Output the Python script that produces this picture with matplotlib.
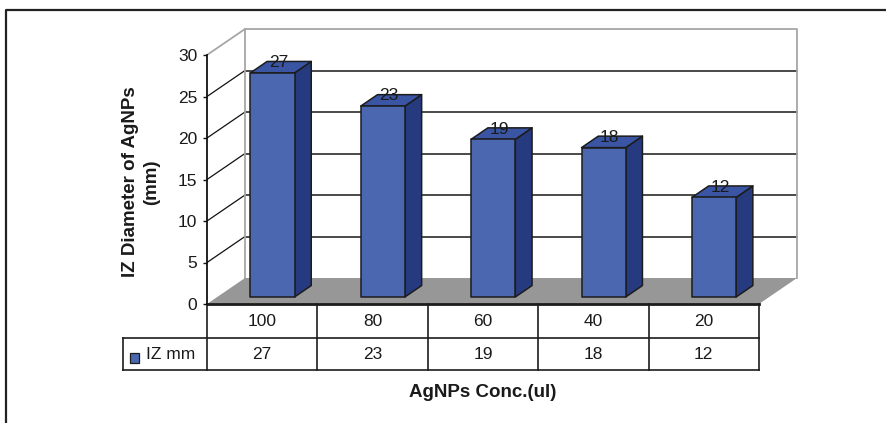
import numpy as np
import matplotlib
matplotlib.use("Agg")
import matplotlib.pyplot as plt
from matplotlib.patches import Polygon, Rectangle
from matplotlib.lines import Line2D

plt.rcParams["font.family"] = ["Liberation Sans", "DejaVu Sans"]

# data
concentrations = ["100", "80", "60", "40", "20"]
iz_mm = [27, 23, 19, 18, 12]
series_name = "IZ mm"
yticks = [0, 5, 10, 15, 20, 25, 30]

# colours
front_c = "#4a67b0"
top_c = "#3a55a4"
side_c = "#263a80"
edge_c = "#1c1c1c"
floor_c = "#979797"
wall_c = "#a6a6a6"
grid_c = "#4a4a4a"

W, H = 886, 423
fig = plt.figure(figsize=(W / 100, H / 100), dpi=100)
ax = fig.add_axes([207 / W, 119 / H, 552 / W, 249 / H])
n = len(concentrations)
ax.set_xlim(0, n)
ax.set_ylim(0, 30)

# depth offset of the 3d box (category units, value units)
DX, DY = 0.344, 3.13
D0, D1 = 0.27, 0.71      # bar depth span
BW = 0.40                # bar width inside a slot


def proj(x, y, d):
    return x + d * DX, y + d * DY


# side wall diagonals and back wall grid
for v in yticks[1:-1]:
    ax.plot([0, DX], [v, v + DY], color="#111111", lw=0.9, clip_on=False, zorder=1)
    ax.plot([DX, n + DX], [v + DY, v + DY], color=grid_c, lw=1.4, clip_on=False, zorder=1)
ax.plot([0, DX, n + DX, n + DX], [30, 30 + DY, 30 + DY, DY], color=wall_c, lw=1.3,
        clip_on=False, zorder=1)
ax.plot([DX, DX], [DY, 30 + DY], color=wall_c, lw=1.3, clip_on=False, zorder=1)

# floor
ax.add_patch(Polygon([(0, 0), (n, 0), (n + DX, DY), (DX, DY)], closed=True,
                     facecolor=floor_c, edgecolor="none", clip_on=False, zorder=2))

# bars
for i, v in enumerate(iz_mm):
    x0 = i + (1 - BW) / 2
    x1 = x0 + BW
    front = [proj(x0, 0, D0), proj(x1, 0, D0), proj(x1, v, D0), proj(x0, v, D0)]
    side = [proj(x1, 0, D0), proj(x1, 0, D1), proj(x1, v, D1), proj(x1, v, D0)]
    top = [proj(x0, v, D0), proj(x1, v, D0), proj(x1, v, D1), proj(x0, v, D1)]
    for pts, fc in ((side, side_c), (top, top_c), (front, front_c)):
        ax.add_patch(Polygon(pts, closed=True, facecolor=fc, edgecolor=edge_c,
                             lw=1.1, joinstyle="round", clip_on=False, zorder=3))
    lx, ly = proj(i + 0.5, v, (D0 + D1) / 2)
    ax.text(lx - 0.02, ly, str(v), ha="center", va="baseline", fontsize=12.5,
            color="#1a1a1a", zorder=4)

# axis
for s in ("top", "right", "bottom"):
    ax.spines[s].set_visible(False)
ax.spines["left"].set_color("#111111")
ax.spines["left"].set_linewidth(1.3)
ax.spines["left"].set_zorder(5)
ax.set_xticks([])
ax.set_yticks(yticks)
ax.tick_params(axis="y", direction="out", length=3, width=1.0, pad=4,
               labelsize=12.5, labelcolor="#1a1a1a", color="#111111")
ax.patch.set_visible(False)

# data table under the plot
ROW1, ROW2 = -4.10, -7.95
HEAD_LEFT = -0.761
tkw = dict(color="#1c1c1c", clip_on=False, zorder=5)
ax.plot([0, n], [0, 0], lw=2.0, **tkw)
ax.plot([HEAD_LEFT, n], [ROW1, ROW1], lw=1.2, **tkw)
ax.plot([HEAD_LEFT, n], [ROW2, ROW2], lw=1.2, **tkw)
ax.plot([HEAD_LEFT, HEAD_LEFT], [ROW1, ROW2], lw=1.2, **tkw)
for k in range(n + 1):
    ax.plot([k, k], [0, ROW2], lw=1.2, **tkw)
for i, (c, v) in enumerate(zip(concentrations, iz_mm)):
    ax.text(i + 0.5, ROW1 / 2, c, ha="center", va="center", fontsize=12.5,
            color="#1a1a1a")
    ax.text(i + 0.5, (ROW1 + ROW2) / 2, str(v), ha="center", va="center",
            fontsize=12.5, color="#1a1a1a")
ax.add_patch(Rectangle((-0.697, -7.10), 0.081, 1.2, facecolor=front_c,
                       edgecolor=edge_c, lw=0.9, clip_on=False, zorder=5))
ax.text(-0.553, (ROW1 + ROW2) / 2, series_name, ha="left", va="center",
        fontsize=12.5, color="#1a1a1a")

# axis titles
fig.text(141 / W, 1 - 182 / H, "IZ Diameter of AgNPs\n(mm)", rotation=90,
         ha="center", va="center", multialignment="center", fontsize=13.5,
         fontweight="bold", color="#1a1a1a", linespacing=1.3)
fig.text(483 / W, 1 - 392 / H, "AgNPs Conc.(ul)", ha="center", va="center",
         fontsize=13.5, fontweight="bold", color="#1a1a1a")

# outer frame (left and top edges)
fig.add_artist(Line2D([6 / W, 6 / W, 1], [0, 1 - 10 / H, 1 - 10 / H],
                      transform=fig.transFigure, color="#222222", lw=1.6))

fig.savefig("out.png", dpi=100)
